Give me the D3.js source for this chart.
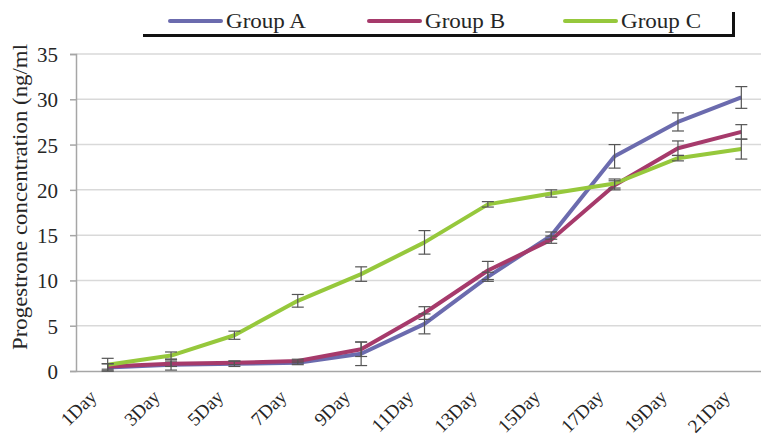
<!DOCTYPE html>
<html>
<head>
<meta charset="utf-8">
<script src="https://cdn.jsdelivr.net/npm/d3@7"></script>
<style>
  html, body { margin: 0; padding: 0; background: #fff; }
  svg { display: block; }
  svg text { font-family: "Times New Roman", "Liberation Serif", "DejaVu Serif", serif; fill: #262626; }
</style>
</head>
<body>
<svg id="chart" width="761" height="439"></svg>
<script>
// Sampling days
const days = ["1Day", "3Day", "5Day", "7Day", "9Day", "11Day", "13Day", "15Day", "17Day", "19Day", "21Day"];

// Progesterone concentration (ng/ml), mean per group
const groupA = [0.4, 0.7, 0.8, 0.9, 1.9, 5.2, 10.4, 14.95, 23.7, 27.5, 30.2];
const groupB = [0.5, 0.8, 0.9, 1.1, 2.4, 6.4, 11.1, 14.5, 20.5, 24.6, 26.4];
const groupC = [0.7, 1.7, 3.95, 7.75, 10.7, 14.2, 18.4, 19.6, 20.7, 23.5, 24.5];

// Standard deviations
const errA = [0.4, 0.6, 0.3, 0.2, 1.3, 1.1, 0.5, 0.4, 1.3, 1.0, 1.2];
const errB = [0.3, 0.3, 0.2, 0.2, 0.8, 0.7, 1.0, 0.4, 0.5, 0.8, 0.8];
const errC = [0.7, 0.4, 0.45, 0.7, 0.8, 1.3, 0.3, 0.4, 0.5, 0.3, 1.1];

const yTicks = [0, 5, 10, 15, 20, 25, 30, 35];
const groupNames = ["Group A", "Group B", "Group C"];
const groupColors = ["#6b6bae", "#a63a6b", "#96c83c"];

const series = [
  { name: groupNames[0], color: groupColors[0], values: groupA, err: errA },
  { name: groupNames[1], color: groupColors[1], values: groupB, err: errB },
  { name: groupNames[2], color: groupColors[2], values: groupC, err: errC }
];

const serif = '"Times New Roman", "Liberation Serif", "DejaVu Serif", serif';
const svg = d3.select("#chart");

const plot = { left: 76, right: 773, top: 54, bottom: 371 };

const x = d3.scaleBand().domain(days).range([plot.left, plot.right]);
const y = d3.scaleLinear().domain([0, 35]).range([plot.bottom, plot.top]);
const cx = d => x(d) + x.bandwidth() / 2;

// Horizontal gridlines
svg.append("g")
  .selectAll("line")
  .data(yTicks.filter(t => t > 0))
  .join("line")
  .attr("x1", plot.left).attr("x2", plot.right)
  .attr("y1", d => y(d)).attr("y2", d => y(d))
  .attr("stroke", "#d9d9d9").attr("stroke-width", 1.5);

// Y axis
const yAxis = svg.append("g")
  .attr("transform", `translate(${plot.left},0)`)
  .attr("font-family", serif)
  .call(d3.axisLeft(y).tickValues(yTicks).tickSize(6).tickPadding(12));
yAxis.select(".domain").attr("stroke", "#a6a6a6").attr("stroke-width", 1.5);
yAxis.selectAll(".tick line").attr("stroke", "#a6a6a6").attr("stroke-width", 1.5);
yAxis.selectAll(".tick text")
  .style("font-family", serif)
  .style("font-size", "21px")
  .attr("dy", "0.36em")
  .attr("fill", "#262626");

// X axis baseline
const xAxis = svg.append("g")
  .attr("transform", `translate(0,${plot.bottom})`)
  .attr("font-family", serif)
  .call(d3.axisBottom(x).tickSize(0).tickPadding(0));
xAxis.select(".domain").attr("stroke", "#a6a6a6").attr("stroke-width", 1.5);
xAxis.selectAll(".tick text")
  .style("font-family", serif)
  .style("font-size", "19px")
  .attr("fill", "#262626")
  .attr("text-anchor", "end")
  .attr("dy", 0)
  .attr("transform", "translate(-10,27) rotate(-45)");

// Y axis title
svg.append("text")
  .attr("transform", `translate(27,197) rotate(-90)`)
  .attr("text-anchor", "middle")
  .attr("textLength", 306)
  .attr("lengthAdjust", "spacingAndGlyphs")
  .style("font-family", serif)
  .style("font-size", "21px")
  .text("Progestrone concentration (ng/ml");

// Series lines
const line = d3.line()
  .x((d, i) => cx(days[i]))
  .y(d => y(d));

series.forEach(s => {
  svg.append("path")
    .datum(s.values)
    .attr("fill", "none")
    .attr("stroke", s.color)
    .attr("stroke-width", 4)
    .attr("stroke-linejoin", "round")
    .attr("d", line);
});

// Error bars
const cap = 6;
series.forEach(s => {
  const g = svg.append("g").attr("stroke", "#555").attr("stroke-width", 1.2).attr("fill", "none");
  s.values.forEach((v, i) => {
    const xc = cx(days[i]);
    const top = y(v + s.err[i]);
    const bot = y(Math.max(0, v - s.err[i]));
    g.append("line").attr("x1", xc).attr("x2", xc).attr("y1", top).attr("y2", bot);
    g.append("line").attr("x1", xc - cap).attr("x2", xc + cap).attr("y1", top).attr("y2", top);
    g.append("line").attr("x1", xc - cap).attr("x2", xc + cap).attr("y1", bot).attr("y2", bot);
  });
});

// Legend
const legend = svg.append("g");
const legendX = [170, 369, 565];
series.forEach((s, i) => {
  legend.append("line")
    .attr("x1", legendX[i]).attr("x2", legendX[i] + 51)
    .attr("y1", 21).attr("y2", 21)
    .attr("stroke", s.color).attr("stroke-width", 4).attr("stroke-linecap", "round");
  legend.append("text")
    .attr("x", legendX[i] + 56).attr("y", 28)
    .attr("textLength", 80)
    .attr("lengthAdjust", "spacingAndGlyphs")
    .style("font-family", serif)
    .style("font-size", "21px")
    .text(s.name);
});
legend.append("path")
  .attr("d", "M143,35.5 H733.5 V12")
  .attr("fill", "none")
  .attr("stroke", "#111")
  .attr("stroke-width", 3);
</script>
</body>
</html>
